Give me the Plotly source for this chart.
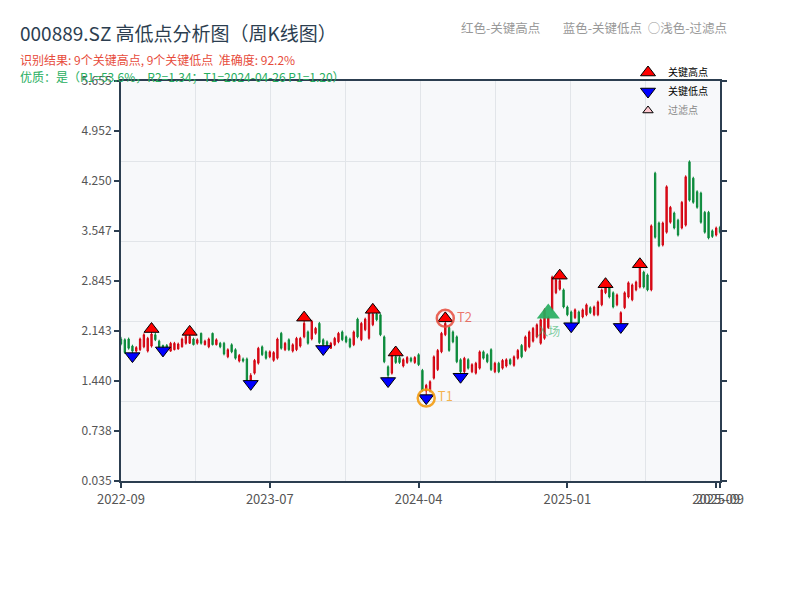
import plotly.graph_objects as go

# ---------------- data ----------------
tick_weeks = [0, 39, 78, 117, 156, 157]
tick_labels = ["2022-09", "2023-07", "2024-04", "2025-01", "2025-09", "2025-09"]

opens = [2.03, 2.02, 2.03, 1.93, 1.86, 1.88, 1.92, 1.86, 1.93, 2.09,
         2.00, 1.94, 1.94, 1.86, 1.88, 1.89, 1.92, 1.97, 1.97, 2.03,
         1.97, 2.11, 1.95, 1.92, 2.11, 1.95, 1.97, 1.97, 1.78, 1.95,
         1.88, 1.72, 1.75, 1.75, 1.45, 1.55, 1.69, 1.92, 1.85, 1.78,
         1.73, 1.76, 2.11, 1.88, 2.02, 1.86, 1.88, 1.93, 2.06, 2.13,
         2.03, 2.11, 2.25, 2.02, 1.99, 1.90, 1.95, 1.99, 2.13, 2.06,
         2.03, 1.95, 2.31, 2.02, 2.16, 2.04, 2.23, 2.38, 2.37, 2.06,
         1.64, 1.55, 1.78, 1.77, 1.65, 1.70, 1.76, 1.70, 1.81, 1.59,
         1.30, 1.30, 1.48, 1.60, 1.85, 2.09, 2.19, 2.13, 2.06, 1.74,
         1.57, 1.74, 1.57, 1.55, 1.62, 1.85, 1.81, 1.88, 1.57, 1.69,
         1.62, 1.65, 1.74, 1.66, 1.76, 1.94, 1.87, 1.92, 2.00, 2.06,
         1.97, 2.04, 2.19, 2.44, 2.68, 2.73, 2.72, 2.48, 2.41, 2.33,
         2.41, 2.34, 2.37, 2.47, 2.37, 2.37, 2.51, 2.68, 2.77, 2.68,
         2.51, 2.26, 2.47, 2.62, 2.58, 2.72, 2.76, 2.97, 2.93, 2.72,
         4.36, 3.66, 3.35, 3.53, 3.67, 3.80, 3.70, 3.59, 3.63, 4.52,
         4.29, 4.10, 4.08, 3.81, 3.81, 3.55, 3.49, 3.60]
highs = [2.06, 2.04, 2.05, 1.95, 1.93, 2.05, 2.11, 2.06, 2.17, 2.12,
         2.02, 1.95, 1.96, 1.99, 1.99, 1.98, 2.05, 2.09, 2.13, 2.05,
         2.04, 2.12, 2.02, 2.05, 2.12, 2.04, 1.99, 1.99, 1.90, 1.97,
         1.90, 1.82, 1.77, 1.77, 1.55, 1.75, 1.92, 1.94, 1.87, 1.87,
         1.86, 2.05, 2.13, 1.99, 2.04, 1.97, 2.06, 2.06, 2.33, 2.15,
         2.30, 2.20, 2.27, 2.04, 2.01, 1.99, 2.06, 2.13, 2.15, 2.08,
         2.05, 2.15, 2.33, 2.27, 2.33, 2.41, 2.44, 2.40, 2.39, 2.08,
         1.66, 1.82, 1.84, 1.79, 1.76, 1.79, 1.78, 1.79, 1.83, 1.61,
         1.40, 1.45, 1.80, 1.89, 2.13, 2.32, 2.21, 2.15, 2.08, 1.76,
         1.78, 1.76, 1.69, 1.71, 1.87, 1.87, 1.83, 1.90, 1.71, 1.71,
         1.75, 1.76, 1.76, 1.80, 1.89, 1.96, 2.08, 2.15, 2.20, 2.25,
         2.32, 2.46, 2.35, 2.92, 2.88, 2.92, 2.74, 2.50, 2.43, 2.46,
         2.43, 2.46, 2.53, 2.49, 2.50, 2.57, 2.74, 2.80, 2.79, 2.70,
         2.67, 2.42, 2.70, 2.84, 2.81, 2.85, 3.08, 2.99, 2.95, 3.64,
         4.38, 3.68, 3.68, 4.19, 3.90, 3.82, 3.72, 3.97, 4.33, 4.54,
         4.31, 4.12, 4.10, 3.83, 3.83, 3.57, 3.61, 3.62]
lows = [1.94, 1.82, 1.88, 1.79, 1.84, 1.86, 1.90, 1.84, 1.91, 2.00,
        1.89, 1.87, 1.87, 1.85, 1.87, 1.88, 1.91, 1.95, 1.96, 1.94,
        1.95, 1.95, 1.94, 1.90, 1.94, 1.94, 1.90, 1.80, 1.76, 1.83,
        1.74, 1.70, 1.70, 1.43, 1.40, 1.53, 1.67, 1.79, 1.74, 1.76,
        1.71, 1.74, 1.88, 1.86, 1.86, 1.84, 1.86, 1.91, 2.04, 1.95,
        2.01, 2.09, 1.96, 1.89, 1.93, 1.89, 1.93, 1.97, 2.00, 1.97,
        1.90, 1.93, 2.04, 2.00, 2.14, 2.02, 2.21, 2.28, 2.07, 1.69,
        1.44, 1.53, 1.68, 1.68, 1.63, 1.68, 1.70, 1.68, 1.65, 1.29,
        1.20, 1.28, 1.46, 1.58, 1.83, 2.07, 1.85, 1.97, 1.69, 1.50,
        1.55, 1.60, 1.55, 1.53, 1.60, 1.74, 1.69, 1.58, 1.55, 1.55,
        1.60, 1.63, 1.66, 1.64, 1.74, 1.76, 1.85, 1.90, 1.98, 2.04,
        1.95, 2.02, 2.17, 2.42, 2.66, 2.71, 2.46, 2.35, 2.21, 2.31,
        2.24, 2.32, 2.35, 2.38, 2.35, 2.35, 2.49, 2.66, 2.60, 2.46,
        2.49, 2.20, 2.45, 2.60, 2.56, 2.70, 2.74, 2.74, 2.70, 2.70,
        3.44, 3.32, 3.33, 3.51, 3.65, 3.57, 3.47, 3.57, 3.61, 3.96,
        3.93, 3.86, 3.65, 3.51, 3.43, 3.45, 3.47, 3.51]
closes = [1.96, 1.84, 1.90, 1.86, 1.91, 2.03, 2.09, 2.04, 2.10, 2.02,
          1.90, 1.89, 1.88, 1.97, 1.97, 1.96, 2.03, 2.07, 2.07, 1.95,
          2.02, 1.97, 2.00, 2.03, 1.95, 2.02, 1.92, 1.82, 1.88, 1.85,
          1.76, 1.80, 1.72, 1.45, 1.52, 1.73, 1.90, 1.81, 1.76, 1.85,
          1.84, 2.03, 1.90, 1.97, 1.88, 1.95, 2.04, 2.04, 2.25, 1.97,
          2.28, 2.18, 1.98, 1.95, 1.95, 1.97, 2.04, 2.11, 2.02, 1.99,
          1.92, 2.13, 2.06, 2.25, 2.31, 2.39, 2.38, 2.30, 2.09, 1.71,
          1.52, 1.80, 1.70, 1.70, 1.74, 1.77, 1.72, 1.77, 1.67, 1.31,
          1.38, 1.43, 1.78, 1.87, 2.11, 2.25, 1.87, 1.99, 1.71, 1.57,
          1.76, 1.62, 1.67, 1.69, 1.85, 1.76, 1.71, 1.60, 1.69, 1.57,
          1.73, 1.74, 1.68, 1.78, 1.87, 1.78, 2.06, 2.13, 2.18, 2.23,
          2.30, 2.44, 2.33, 2.90, 2.86, 2.85, 2.48, 2.37, 2.26, 2.44,
          2.26, 2.44, 2.51, 2.40, 2.48, 2.55, 2.72, 2.76, 2.62, 2.48,
          2.65, 2.40, 2.68, 2.82, 2.79, 2.83, 3.04, 2.76, 2.72, 3.62,
          3.46, 3.34, 3.66, 4.17, 3.88, 3.59, 3.49, 3.95, 4.31, 3.98,
          3.95, 3.88, 3.67, 3.53, 3.45, 3.47, 3.59, 3.53]
weeks = list(range(len(opens)))

key_high_idx = [8, 18, 48, 66, 72, 85, 115, 127, 136]
key_low_idx = [3, 11, 34, 53, 70, 80, 89, 118, 131]
entry_idx = 112
entry_price = 2.39
t1_idx = 80
t2_idx = 85

y_min, y_max = 0.035, 5.655
y_tick_labels = ["0.035", "0.738", "1.440", "2.143", "2.845", "3.547", "4.250", "4.952", "5.655"]

# ---------------- layout helpers ----------------
OFF = 8  # page offset of the figure inside the browser window
W, H = 800, 600
L, T = 121 - OFF, 81 - OFF
R, B = W - (720 - OFF), H - (481 - OFF)
pw, ph = W - L - R, H - T - B


def px_x(px):
    return (px - OFF - L) / pw


def px_y(py):
    return (H - B - (py - OFF)) / ph


n = len(opens)
y_ticks = [y_min + (y_max - y_min) * k / 8 for k in range(9)]
y_grid = [y_min + (y_max - y_min) * k / 5 for k in range(1, 5)]
x_grid = [(n - 1) * k / 8 for k in range(1, 8)]

AXC = "#2c3e50"
FONT = "Noto Sans CJK SC, sans-serif"

fig = go.Figure()
fig.add_trace(go.Candlestick(
    x=weeks, open=opens, high=highs, low=lows, close=closes,
    increasing=dict(line=dict(color="#d0000f", width=1), fillcolor="#e8141c"),
    decreasing=dict(line=dict(color="#0a8a3a", width=1), fillcolor="#0a8a3a"),
    whiskerwidth=0, showlegend=False, hoverinfo="skip"))

fig.add_trace(go.Scatter(
    x=key_high_idx, y=[highs[i] for i in key_high_idx], mode="markers", name="关键高点",
    marker=dict(symbol="triangle-up", size=13, color="#ff0000", line=dict(color="black", width=1))))
fig.add_trace(go.Scatter(
    x=key_low_idx, y=[lows[i] for i in key_low_idx], mode="markers", name="关键低点",
    marker=dict(symbol="triangle-down", size=13, color="#0000ff", line=dict(color="black", width=1))))
fig.add_trace(go.Scatter(
    x=[None], y=[None], mode="markers", name="<span style='color:#888'>过滤点</span>",
    marker=dict(symbol="triangle-up", size=9, color="#ffc8d0", line=dict(color="black", width=1))))

fig.add_trace(go.Scatter(
    x=[entry_idx], y=[entry_price], mode="markers+text", text=["入场"], textposition="bottom center",
    marker=dict(symbol="triangle-up", size=20, color="rgba(39,174,96,0.92)"),
    textfont=dict(color="rgba(39,174,96,0.6)", size=12, family=FONT), showlegend=False, hoverinfo="skip"))

fig.add_trace(go.Scatter(
    x=[t1_idx], y=[lows[t1_idx]], mode="markers+text", text=["T1"], textposition="middle right",
    marker=dict(symbol="circle-open", size=17, color="rgba(243,156,18,0.9)", line=dict(width=2.5)),
    textfont=dict(color="rgba(243,156,18,0.75)", size=13, family=FONT), showlegend=False, hoverinfo="skip"))
fig.add_trace(go.Scatter(
    x=[t2_idx], y=[highs[t2_idx]], mode="markers+text", text=["T2"], textposition="middle right",
    marker=dict(symbol="circle-open", size=17, color="rgba(231,76,60,0.85)", line=dict(width=2.5)),
    textfont=dict(color="rgba(231,76,60,0.75)", size=13, family=FONT), showlegend=False, hoverinfo="skip"))

fig.update_layout(
    width=W, height=H, margin=dict(l=L, r=R, t=T, b=B, autoexpand=False),
    paper_bgcolor="white", plot_bgcolor="#f7f8fa",
    font=dict(family=FONT, color="#555", size=12),
    boxgap=0.5,
    showlegend=True,
    legend=dict(x=px_x(628), y=px_y(58), xanchor="left", yanchor="top", bgcolor="rgba(0,0,0,0)",
                font=dict(size=10, color="#000"), tracegroupgap=0),
    xaxis=dict(range=[0, n - 1], tickmode="array", tickvals=tick_weeks, ticktext=tick_labels,
               tickangle=0,
               showgrid=False, zeroline=False, ticks="outside", ticklen=5, tickwidth=1.5, tickcolor=AXC,
               showline=True, linecolor=AXC, linewidth=2, mirror=True,
               rangeslider=dict(visible=False), tickfont=dict(size=13, color="#555"),
               minor=dict(tickmode="array", tickvals=x_grid, showgrid=True, gridcolor="#e2e5e9",
                          gridwidth=1, ticks="")),
    yaxis=dict(range=[y_min, y_max], tickmode="array", tickvals=y_ticks, ticktext=y_tick_labels,
               showgrid=False, zeroline=False, ticks="outside", ticklen=5, tickwidth=1.5, tickcolor=AXC,
               showline=True, linecolor=AXC, linewidth=2, mirror="ticks",
               tickfont=dict(size=12, color="#555"),
               minor=dict(tickmode="array", tickvals=y_grid, showgrid=True, gridcolor="#e2e5e9",
                          gridwidth=1, ticks="")),
    annotations=[
        dict(text="000889.SZ 高低点分析图（周K线图）", xref="paper", yref="paper",
             x=px_x(18), y=px_y(33), xanchor="left", yanchor="middle", showarrow=False,
             font=dict(size=19, color="#2c3e50")),
        dict(text="识别结果: 9个关键高点, 9个关键低点  准确度: 92.2%", xref="paper", yref="paper",
             x=px_x(18), y=px_y(59), xanchor="left", yanchor="middle", showarrow=False,
             font=dict(size=12, color="#e74c3c")),
        dict(text="优质：是（R1=53.6%，R2=1.34；T1=2024-04-26 P1=1.20）", xref="paper", yref="paper",
             x=px_x(18), y=px_y(76), xanchor="left", yanchor="middle", showarrow=False,
             font=dict(size=12, color="#27ae60")),
        dict(text="红色-关键高点        蓝色-关键低点  ○浅色-过滤点", xref="paper", yref="paper",
             x=px_x(729), y=px_y(28), xanchor="right", yanchor="middle", showarrow=False,
             font=dict(size=12.5, color="#999")),
    ],
)

fig.write_html("out.html")
